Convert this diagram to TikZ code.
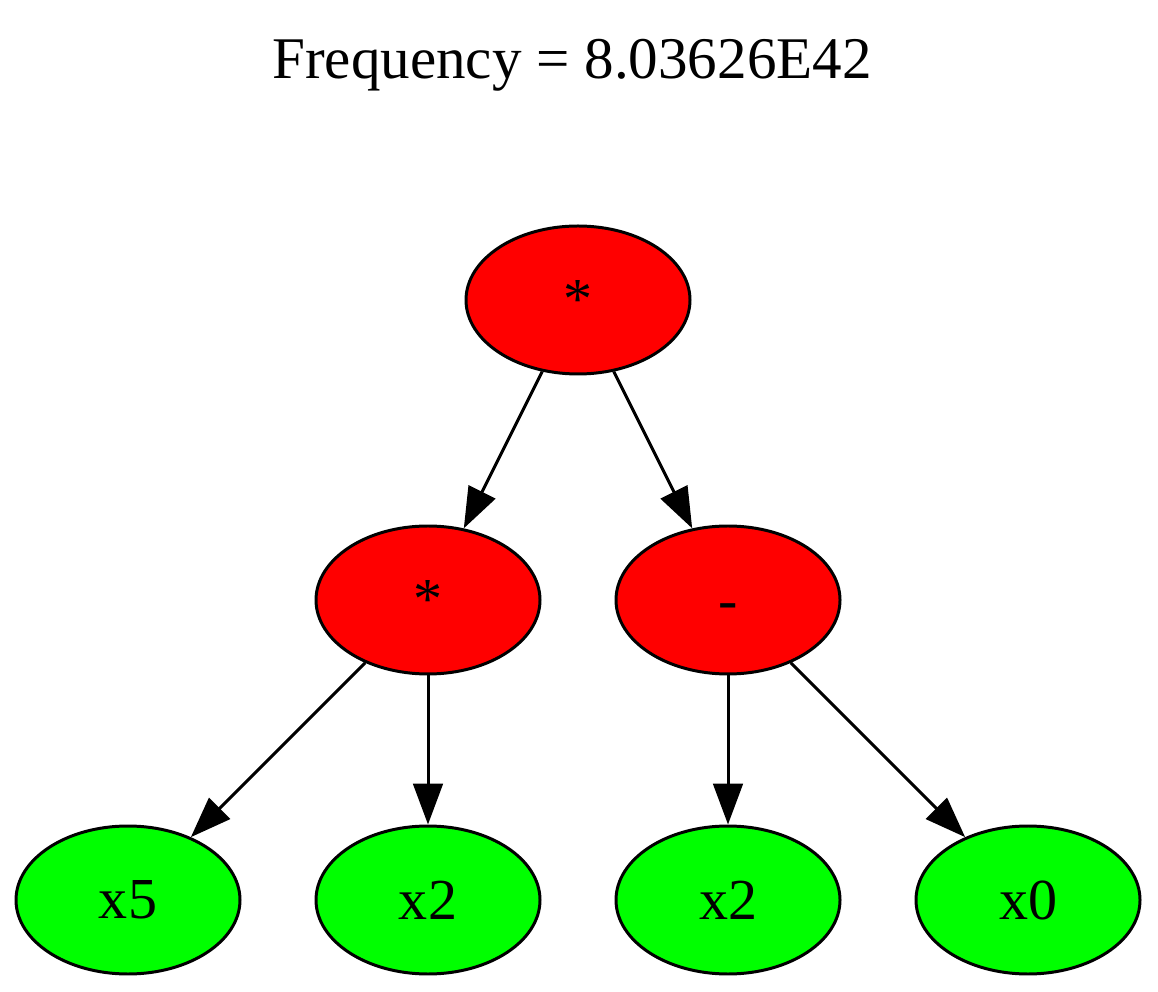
\documentclass[tikz,border=0pt]{standalone}
\usepackage{fontspec}
\setmainfont{Liberation Serif}
\usetikzlibrary{shapes.geometric,arrows.meta}
\definecolor{nodered}{HTML}{FF0000}
\definecolor{nodegreen}{HTML}{00FF00}
\begin{document}
\begin{tikzpicture}[x=0.01cm,y=-0.01cm,
  gnode/.style={ellipse,draw=black,line width=0.85pt,minimum width=224*0.01cm,minimum height=148*0.01cm,inner sep=0pt,font=\fontsize{16.5}{20}\selectfont},
  opnode/.style={gnode,fill=nodered},
  leafnode/.style={gnode,fill=nodegreen},
  edge/.style={draw=black,line width=0.85pt,-{Triangle[length=11.6pt,width=8.4pt]}}]
\useasboundingbox (0,0) rectangle (1158,992);
\node[font=\fontsize{16.8}{20}\selectfont] (title) at (572,65) {Frequency = 8.03626E42};
\node[opnode] (root) at (578,300) {*};
\node[opnode] (ml) at (428,600) {*};
\node[opnode] (mr) at (728,600) {\vphantom{x2}-};
\node[leafnode] (l1) at (128,900) {x5};
\node[leafnode] (l2) at (428,900) {x2};
\node[leafnode] (l3) at (728,900) {x2};
\node[leafnode] (l4) at (1028,900) {x0};
\draw[edge] (root) -- (ml);
\draw[edge] (root) -- (mr);
\draw[edge] (ml) -- (l1);
\draw[edge] (ml) -- (l2);
\draw[edge] (mr) -- (l3);
\draw[edge] (mr) -- (l4);
\end{tikzpicture}
\end{document}
